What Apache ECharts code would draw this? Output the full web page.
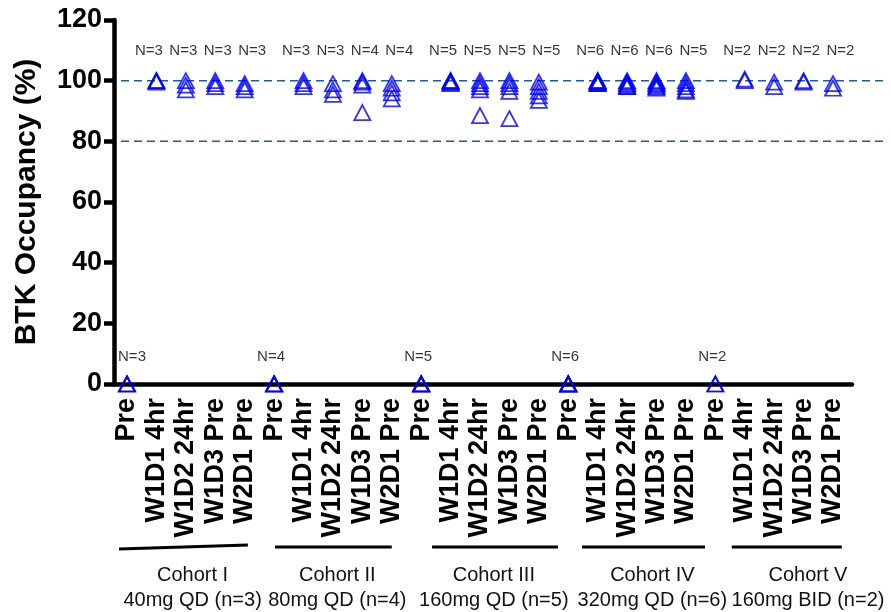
<!DOCTYPE html>
<html>
<head>
<meta charset="utf-8">
<script src="https://cdn.jsdelivr.net/npm/echarts@6/dist/echarts.min.js"></script>
<style>
  html, body { margin: 0; padding: 0; background: #ffffff; }
  #chart { width: 891px; height: 612px; }
</style>
</head>
<body>
<div id="chart"></div>
<script>
// ---- data ----
const timepoints = ['Pre', 'W1D1 4hr', 'W1D2 24hr', 'W1D3 Pre', 'W2D1 Pre'];
const cohortNames = ['Cohort I', 'Cohort II', 'Cohort III', 'Cohort IV', 'Cohort V'];
const regimens = ['40mg QD (n=3)', '80mg QD (n=4)', '160mg QD (n=5)', '320mg QD (n=6)', '160mg BID (n=2)'];
const nCounts = [
  [3, 3, 3, 3, 3],
  [4, 3, 3, 4, 4],
  [5, 5, 5, 5, 5],
  [6, 6, 6, 6, 5],
  [2, 2, 2, 2, 2]
];
// BTK occupancy (%) per subject, one list per timepoint
const occCohortI = [
  [0, 0, 0],
  [100, 100, 99.5],
  [100, 98.5, 97],
  [100, 99, 98],
  [99, 98, 97]
];
const occCohortII = [
  [0, 0, 0, 0],
  [100, 99, 98],
  [99, 97, 95.5],
  [100, 99.5, 98.5, 89.5],
  [99, 97.5, 96, 94]
];
const occCohortIII = [
  [0, 0, 0, 0, 0],
  [100, 100, 99.5, 99.5, 99],
  [100, 99, 98, 97, 88.5],
  [100, 99, 98, 96.5, 87.5],
  [99.5, 98, 96.5, 95, 93.5]
];
const occCohortIV = [
  [0, 0, 0, 0, 0, 0],
  [100, 100, 99.5, 99.5, 99, 99],
  [100, 99.5, 99, 98.5, 98, 98],
  [100, 99.5, 99, 98.5, 98, 97.5],
  [100, 99, 98, 97, 96.5]
];
const occCohortV = [
  [0, 0],
  [100.5, 100],
  [99.5, 98],
  [100, 99.5],
  [99, 97.5]
];
const referenceLevels = [100, 80];
const yTicks = [0, 20, 40, 60, 80, 100, 120];

// ---- layout / style ----
const FONT = '"Liberation Sans", Arial, Helvetica, sans-serif';
const allCohorts = [occCohortI, occCohortII, occCohortIII, occCohortIV, occCohortV];
const perCohort = timepoints.length;
const categoryLabels = [];
cohortNames.forEach(() => timepoints.forEach(t => categoryLabels.push(t)));

// cohort bracket spans below the axis, in category units
const bracketLayout = [
  { from: -0.27, to: 4.11, y1: 549, y2: 545, textAt: 2.23 },
  { from: 5.03, to: 9.0, y1: 547, y2: 547, textAt: 7.15 },
  { from: 10.37, to: 14.65, y1: 547, y2: 547, textAt: 12.47 },
  { from: 15.47, to: 19.65, y1: 547, y2: 547, textAt: 17.86 },
  { from: 20.56, to: 24.3, y1: 547, y2: 547, textAt: 23.15 }
];

const points = [];
allCohorts.forEach((cohort, c) => {
  cohort.forEach((vals, t) => {
    vals.forEach(v => points.push([c * perCohort + t, v]));
  });
});

const nLabels = [];
nCounts.forEach((row, c) => {
  row.forEach((n, t) => {
    nLabels.push({
      value: [c * perCohort + t, t === 0 ? 9 : 109.7],
      name: 'N=' + n,
      label: { offset: [t === 0 ? (c === 0 ? 5 : -3) : (t - 2.5) * 5, 0] }
    });
  });
});

const chart = echarts.init(document.getElementById('chart'), null, { renderer: 'canvas' });

const refSeries = referenceLevels.map(level => ({
  type: 'line',
  xAxisIndex: 1,
  yAxisIndex: 1,
  data: [[0, level], [1, level]],
  symbol: 'none',
  silent: true,
  z: 1,
  lineStyle: { color: '#1b5c9a', width: 1.5, type: [8, 5] }
}));

chart.setOption({
  animation: false,
  backgroundColor: '#ffffff',
  grid: [
    { left: 114, right: 39, top: 20, bottom: 228, containLabel: false },
    { left: 121, right: 3, top: 20, bottom: 228, containLabel: false }
  ],
  xAxis: [
    {
      type: 'value',
      gridIndex: 0,
      min: -0.442,
      max: 24.646,
      splitLine: { show: false },
      axisLine: { show: true, onZero: false, lineStyle: { color: '#000', width: 4.5 } },
      axisTick: { show: false },
      axisLabel: {
        customValues: categoryLabels.map((_, i) => i),
        formatter: v => categoryLabels[Math.round(v)],
        rotate: 90,
        margin: 14,
        color: '#000',
        fontFamily: FONT,
        fontWeight: 'bold',
        fontSize: 27
      }
    },
    { type: 'value', gridIndex: 1, min: 0, max: 1, show: false }
  ],
  yAxis: [
    {
      type: 'value',
      gridIndex: 0,
      min: 0,
      max: 120,
      interval: 20,
      name: 'BTK Occupancy (%)',
      nameLocation: 'middle',
      nameGap: 72,
      nameRotate: 90,
      nameTextStyle: { color: '#000', fontFamily: FONT, fontWeight: 'bold', fontSize: 30 },
      splitLine: { show: false },
      axisLine: { show: true, onZero: false, lineStyle: { color: '#000', width: 4.5 } },
      axisTick: { show: true, length: 10, lineStyle: { color: '#000', width: 4.5 } },
      axisLabel: {
        margin: 12,
        color: '#000',
        fontFamily: FONT,
        fontWeight: 'bold',
        fontSize: 27,
        formatter: v => (yTicks.indexOf(v) >= 0 ? String(v) : '')
      }
    },
    { type: 'value', gridIndex: 1, min: 0, max: 120, show: false }
  ],
  series: [
    ...refSeries,
    {
      type: 'scatter',
      xAxisIndex: 0,
      yAxisIndex: 0,
      data: points,
      symbol: 'triangle',
      symbolSize: [16, 15],
      z: 3,
      itemStyle: { color: 'rgba(0,0,0,0)', borderColor: '#0000ff', borderWidth: 1.8 },
      emphasis: { disabled: true },
      clip: false
    },
    {
      type: 'scatter',
      xAxisIndex: 0,
      yAxisIndex: 0,
      data: nLabels,
      symbolSize: 0,
      silent: true,
      z: 4,
      label: {
        show: true,
        position: 'inside',
        formatter: '{b}',
        color: '#000',
        fontFamily: FONT,
        fontSize: 15
      }
    }
  ]
});

// cohort brackets and captions under the category labels
function px(x) {
  return chart.convertToPixel({ xAxisIndex: 0, yAxisIndex: 0 }, [x, 0])[0];
}
const graphics = [];
bracketLayout.forEach((b, i) => {
  graphics.push({
    type: 'line',
    shape: { x1: px(b.from), y1: b.y1, x2: px(b.to), y2: b.y2 },
    style: { stroke: '#000', lineWidth: 3 },
    silent: true
  });
  const cx = px(b.textAt);
  graphics.push({
    type: 'text',
    x: cx,
    y: 575,
    style: {
      text: cohortNames[i],
      font: '20px ' + FONT,
      fill: '#111',
      textAlign: 'center',
      textVerticalAlign: 'middle'
    },
    silent: true
  });
  graphics.push({
    type: 'text',
    x: cx,
    y: 600,
    style: {
      text: regimens[i],
      font: '20px ' + FONT,
      fill: '#111',
      textAlign: 'center',
      textVerticalAlign: 'middle'
    },
    silent: true
  });
});
chart.setOption({ graphic: graphics });
</script>
</body>
</html>
